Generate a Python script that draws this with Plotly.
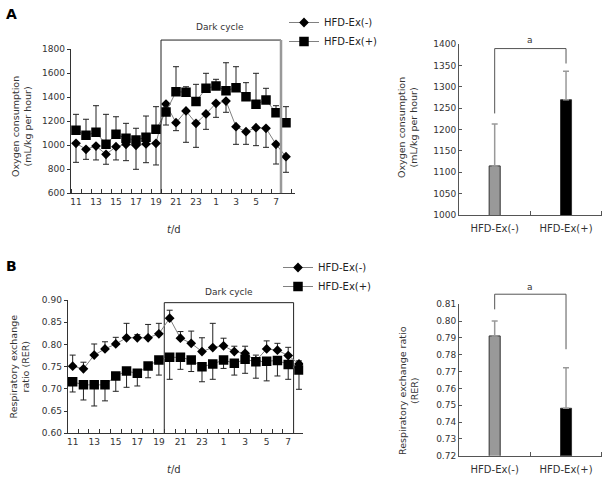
import plotly.graph_objects as go

FONT = "DejaVu Sans"
W, H = 612, 481

# hours of the recording, 11:00 to 08:00 the next morning
hours = [11, 12, 13, 14, 15, 16, 17, 18, 19, 20, 21, 22, 23, 0, 1, 2, 3, 4, 5, 6, 7, 8]
tick_hours = [11, 13, 15, 17, 19, 21, 23, 1, 3, 5, 7]
dark_from, dark_to = 19, 7   # dark cycle lies between these hours and the next ones

groups = ["HFD-Ex(-)", "HFD-Ex(+)"]

# Panel A: oxygen consumption (mL/kg per hour)
vo2_minus = [1017, 967, 994, 925, 988, 1008, 1000, 1011, 1017, 1344, 1188, 1286, 1183, 1261,
             1350, 1369, 1155, 1113, 1147, 1142, 1008, 905]
vo2_minus_err = [159, 84, 116, 83, 110, 136, 200, 156, 181, 175, 66, 261, 200, 128,
                 117, 94, 147, 105, 150, 159, 164, 130]
vo2_plus = [1125, 1083, 1108, 1008, 1092, 1058, 1044, 1067, 1133, 1278, 1447, 1442, 1364, 1475,
            1494, 1455, 1480, 1405, 1342, 1378, 1272, 1188]
vo2_plus_err = [133, 134, 222, 250, 146, 125, 98, 177, 189, 40, 208, 46, 144, 125,
                56, 233, 175, 117, 258, 97, 58, 134]
vo2_mean = [1115, 1270]
vo2_sd = [98, 67]
vo2_bracket = [1238, 1390, 1390, 1355]

# Panel B: respiratory exchange ratio
rer_minus = [0.751, 0.745, 0.776, 0.790, 0.801, 0.815, 0.815, 0.815, 0.824, 0.859, 0.814, 0.8025,
             0.784, 0.793, 0.797, 0.784, 0.780, 0.763, 0.790, 0.787, 0.775, 0.756]
rer_minus_err = [0.025, 0.015, 0.025, 0.016, 0.015, 0.0325, 0.007, 0.030, 0.0235, 0.018, 0.015, 0.0275,
                 0.031, 0.0545, 0.017, 0.012, 0.016, 0.013, 0.018, 0.0155, 0.0185, 0.007]
rer_plus = [0.716, 0.709, 0.709, 0.709, 0.729, 0.740, 0.735, 0.7515, 0.765, 0.771, 0.771, 0.765,
            0.750, 0.756, 0.765, 0.7575, 0.7665, 0.761, 0.762, 0.764, 0.755, 0.7425]
rer_plus_err = [0.023, 0.034, 0.0475, 0.036, 0.0345, 0.0365, 0.0285, 0.0265, 0.034, 0.0495, 0.027, 0.026,
                0.034, 0.0345, 0.019, 0.0265, 0.0315, 0.037, 0.044, 0.035, 0.0335, 0.0435]
rer_mean = [0.7912, 0.7482]
rer_sd = [0.0089, 0.0241]
rer_bracket = [0.807, 0.816, 0.816, 0.7833]


def fx(px):
    return px / W


def fy(py):
    return 1 - py / H


def ext_range(lo, hi, bottom_px, top_px, ext_top_px):
    # range of an invisible axis that shares the scale but reaches higher up
    return [lo, lo + (hi - lo) * (bottom_px - ext_top_px) / (bottom_px - top_px)]


idx = list(range(len(hours)))
zeros = [0] * len(hours)
tickvals = [hours.index(h) for h in tick_hours]
ticktext = [str(h) for h in tick_hours]
dark_start = hours.index(dark_from) + 0.5
dark_end = hours.index(dark_to) + 0.5

tick_font = dict(family=FONT, size=9, color="#333")
err_col = "#222"
diamond = dict(symbol="diamond", size=7.5, color="black")
square = dict(symbol="square", size=9.5, color="black")

fig = go.Figure()

# ---- A, time course
fig.add_trace(go.Scatter(x=[dark_start, dark_start, dark_end], y=[600, 1877, 1877], xaxis="x", yaxis="y5",
                         mode="lines", line=dict(color="#222", width=1), showlegend=False, hoverinfo="skip"))
fig.add_trace(go.Scatter(x=[dark_end, dark_end], y=[1877, 600], xaxis="x", yaxis="y5",
                         mode="lines", line=dict(color="#999", width=2.5), showlegend=False, hoverinfo="skip"))
fig.add_trace(go.Scatter(x=idx, y=vo2_minus, xaxis="x", yaxis="y", name=groups[0], legend="legend",
                         mode="lines+markers", line=dict(color="#808080", width=1), marker=diamond,
                         error_y=dict(type="data", symmetric=False, array=zeros, arrayminus=vo2_minus_err,
                                      color=err_col, thickness=1, width=3)))
fig.add_trace(go.Scatter(x=idx, y=vo2_plus, xaxis="x", yaxis="y", name=groups[1], legend="legend",
                         mode="lines+markers", line=dict(color="#808080", width=1), marker=square,
                         error_y=dict(type="data", symmetric=False, array=vo2_plus_err, arrayminus=zeros,
                                      color=err_col, thickness=1, width=3)))

# ---- A, bars
fig.add_trace(go.Bar(x=[0, 1], y=vo2_mean, xaxis="x2", yaxis="y2", width=0.155, showlegend=False,
                     marker=dict(color=["#999999", "#000000"], line=dict(color="#333", width=1)),
                     error_y=dict(type="data", symmetric=False, array=vo2_sd, arrayminus=[0, 0],
                                  color="#999", thickness=1.5, width=3)))
fig.add_trace(go.Scatter(x=[0, 0, 1, 1], y=vo2_bracket, xaxis="x2", yaxis="y6", mode="lines",
                         line=dict(color="#555", width=1), showlegend=False, hoverinfo="skip"))

# ---- B, time course
fig.add_trace(go.Scatter(x=[dark_start, dark_start, dark_end, dark_end], y=[0.6, 0.894, 0.894, 0.6],
                         xaxis="x3", yaxis="y3", mode="lines", line=dict(color="#222", width=1),
                         showlegend=False, hoverinfo="skip"))
fig.add_trace(go.Scatter(x=idx, y=rer_minus, xaxis="x3", yaxis="y3", name=groups[0], legend="legend2",
                         mode="lines+markers", line=dict(color="#808080", width=1), marker=diamond,
                         error_y=dict(type="data", symmetric=False, array=rer_minus_err, arrayminus=zeros,
                                      color=err_col, thickness=1, width=3)))
fig.add_trace(go.Scatter(x=idx, y=rer_plus, xaxis="x3", yaxis="y3", name=groups[1], legend="legend2",
                         mode="lines+markers", line=dict(color="#808080", width=1), marker=square,
                         error_y=dict(type="data", symmetric=False, array=zeros, arrayminus=rer_plus_err,
                                      color=err_col, thickness=1, width=3)))

# ---- B, bars
fig.add_trace(go.Bar(x=[0, 1], y=rer_mean, xaxis="x4", yaxis="y4", width=0.155, showlegend=False,
                     marker=dict(color=["#999999", "#000000"], line=dict(color="#333", width=1)),
                     error_y=dict(type="data", symmetric=False, array=rer_sd, arrayminus=[0, 0],
                                  color="#999", thickness=1.5, width=3)))
fig.add_trace(go.Scatter(x=[0, 0, 1, 1], y=rer_bracket, xaxis="x4", yaxis="y8", mode="lines",
                         line=dict(color="#555", width=1), showlegend=False, hoverinfo="skip"))

line_x = dict(showgrid=False, zeroline=False, showline=True, linecolor="#333", linewidth=1,
              tickmode="array", tickvals=tickvals, ticktext=ticktext, ticks="", tickfont=tick_font,
              minor=dict(tickmode="array", tickvals=[i - 0.5 for i in range(len(hours) + 1)],
                         ticks="inside", ticklen=4, tickcolor="#333"))
line_y = dict(showgrid=False, zeroline=False, showline=True, linecolor="#333", linewidth=1,
              ticks="outside", ticklen=3, tickcolor="#333", tickfont=tick_font)
bar_x = dict(showgrid=False, zeroline=False, showline=True, linecolor="#555", linewidth=1,
             range=[-0.5, 1.5], tickmode="array", tickvals=[0, 1], ticktext=groups, ticks="",
             tickfont=dict(family=FONT, size=10, color="#333"), ticklabelstandoff=4,
             minor=dict(tickmode="array", tickvals=[0.5, 1.5], ticks="inside", ticklen=4, tickcolor="#555"))
bar_y = dict(showgrid=False, zeroline=False, showline=True, linecolor="#555", linewidth=1,
             ticks="inside", ticklen=3, tickcolor="#555", tickfont=tick_font)

vo2_ext = ext_range(1000, 1400, 215, 44.3, 30)
rer_ext = ext_range(0.72, 0.81, 455.7, 304.3, 280)

fig.update_layout(
    width=W, height=H, template="none",
    margin=dict(l=0, r=0, t=0, b=0),
    paper_bgcolor="white", plot_bgcolor="rgba(0,0,0,0)",
    font=dict(family=FONT, size=10, color="#222"),
    xaxis=dict(line_x, domain=[fx(70.7), fx(295)], range=[-0.53, 21.9], anchor="y"),
    yaxis=dict(line_y, domain=[fy(193.3), fy(49.3)], range=[600, 1800], dtick=200, anchor="x"),
    yaxis5=dict(domain=[fy(193.3), fy(30)], range=ext_range(600, 1800, 193.3, 49.3, 30),
                anchor="x", visible=False),
    xaxis2=dict(bar_x, domain=[fx(459), fx(601.7)], anchor="y2"),
    yaxis2=dict(bar_y, domain=[fy(215), fy(44.3)], range=[1000, 1400], dtick=50, anchor="x2"),
    yaxis6=dict(domain=[fy(215), fy(30)], range=vo2_ext, anchor="x2", visible=False),
    xaxis3=dict(line_x, domain=[fx(67.7), fx(303.3)], range=[-0.46, 21.4], anchor="y3"),
    yaxis3=dict(line_y, domain=[fy(433.3), fy(300)], range=[0.6, 0.9], dtick=0.05, tickformat=".2f",
                anchor="x3"),
    xaxis4=dict(bar_x, domain=[fx(459), fx(601.7)], anchor="y4"),
    yaxis4=dict(bar_y, domain=[fy(455.7), fy(304.3)], range=[0.72, 0.81], dtick=0.01, tickformat=".2f",
                anchor="x4"),
    yaxis8=dict(domain=[fy(455.7), fy(280)], range=rer_ext, anchor="x4", visible=False),
    showlegend=True,
    legend=dict(x=fx(284), y=fy(8), xanchor="left", yanchor="top", bgcolor="rgba(0,0,0,0)",
                font=dict(family=FONT, size=10, color="#222"), itemwidth=30, tracegroupgap=0),
    legend2=dict(x=fx(278), y=fy(253), xanchor="left", yanchor="top", bgcolor="rgba(0,0,0,0)",
                 font=dict(family=FONT, size=10, color="#222"), itemwidth=30, tracegroupgap=0),
)

ann = []
# panel letters
ann.append(dict(text="<b>A</b>", x=fx(11), y=fy(14), font=dict(size=14, color="black")))
ann.append(dict(text="<b>B</b>", x=fx(11), y=fy(266), font=dict(size=14, color="black")))
# dark cycle labels
ann.append(dict(text="Dark cycle", x=fx(220), y=fy(27), font=dict(size=9, color="#333")))
ann.append(dict(text="Dark cycle", x=fx(229), y=fy(292), font=dict(size=9, color="#333")))
# time axis titles
ann.append(dict(text="<i>t</i>/d", x=fx(174), y=fy(229), font=dict(size=10, color="#333")))
ann.append(dict(text="<i>t</i>/d", x=fx(174), y=fy(469), font=dict(size=10, color="#333")))
# y axis titles
ann.append(dict(text="Oxygen consumption<br>(mL/kg per hour)", x=fx(21), y=fy(127), textangle=-90,
                font=dict(size=9.5, color="#333")))
ann.append(dict(text="Respiratory exchange<br>ratio (RER)", x=fx(18.5), y=fy(367), textangle=-90,
                font=dict(size=9.5, color="#333")))
ann.append(dict(text="Oxygen consumption<br>(mL/kg per hour)", x=fx(407), y=fy(128), textangle=-90,
                font=dict(size=9.5, color="#333")))
ann.append(dict(text="Respiratory exchange ratio<br>(RER)", x=fx(408), y=fy(391), textangle=-90,
                font=dict(size=9.5, color="#333")))
for a in ann:
    a.update(xref="paper", yref="paper", showarrow=False, xanchor="center", yanchor="middle",
             font=dict(a["font"], family=FONT))

# significance marks, placed on the taller helper axes so they are not hidden
ann.append(dict(text="a", xref="x2", yref="y6", x=0.5, y=1410, showarrow=False,
                font=dict(family=FONT, size=9, color="#333")))
ann.append(dict(text="a", xref="x4", yref="y8", x=0.5, y=0.8205, showarrow=False,
                font=dict(family=FONT, size=9, color="#333")))

fig.update_layout(annotations=ann)

fig.write_html("out.html", config={"displayModeBar": False},
               post_script="document.body.style.margin = '0';")
